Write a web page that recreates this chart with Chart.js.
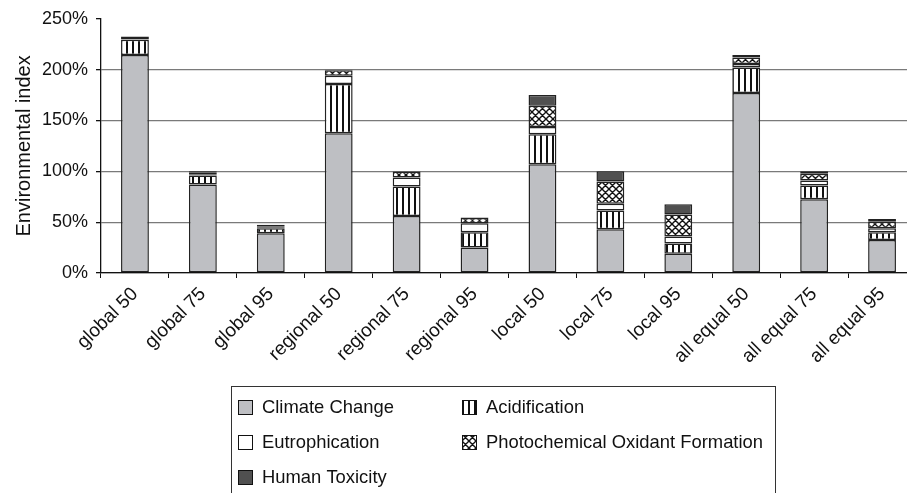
<!DOCTYPE html>
<html>
<head>
<meta charset="utf-8">
<script src="https://cdn.jsdelivr.net/npm/chart.js@4.4.0/dist/chart.umd.min.js"></script>
<style>
html,body{margin:0;padding:0;background:#fff;overflow:hidden;}
#wrap{width:907px;height:493px;overflow:hidden;position:relative;}
canvas{display:block;}
</style>
</head>
<body>
<div id="wrap"><canvas id="c" width="917" height="493"></canvas></div>
<script>
// ---- data (percent) ----
const categories = ['global 50','global 75','global 95','regional 50','regional 75','regional 95','local 50','local 75','local 95','all equal 50','all equal 75','all equal 95'];
const climateChange = [214.5, 87, 39, 137.5, 56, 25, 107, 43, 19, 177, 72.5, 32.5];
const acidification = [15, 9, 5, 48.5, 29, 15, 29.5, 18.5, 10, 25, 13.5, 7.5];
const eutrophication = [0.5, 1, 1, 8, 9, 9, 7, 6.5, 7, 3.5, 5, 4];
const photochemical = [1, 1.5, 1, 5.5, 5.5, 5, 21, 22, 21.5, 6.5, 6.5, 6.5];
const humanToxicity = [1.5, 1.5, 1.5, 0.5, 0.5, 0.5, 10.5, 10, 10, 2.5, 2.5, 2.5];
const seriesNames = ['Climate Change','Acidification','Eutrophication','Photochemical Oxidant Formation','Human Toxicity'];
const yTicks = [0, 50, 100, 150, 200, 250];

// ---- patterns ----
function stripePattern(){
  const c = document.createElement('canvas'); c.width = 6; c.height = 6;
  const g = c.getContext('2d');
  g.fillStyle = '#fff'; g.fillRect(0,0,6,6);
  g.fillStyle = '#111'; g.fillRect(0,0,2,6);
  return document.getElementById('c').getContext('2d').createPattern(c,'repeat');
}
function crossPattern(){
  const s = 7;
  const c = document.createElement('canvas'); c.width = s; c.height = s;
  const g = c.getContext('2d');
  g.fillStyle = '#fff'; g.fillRect(0,0,s,s);
  g.strokeStyle = '#111'; g.lineWidth = 1.4;
  g.beginPath();
  for (const o of [-s,0,s]) {
    g.moveTo(o,0); g.lineTo(o+s,s);
    g.moveTo(o+s,0); g.lineTo(o,s);
  }
  g.stroke();
  return document.getElementById('c').getContext('2d').createPattern(c,'repeat');
}
const fills = ['#bebfc3', stripePattern(), '#ffffff', crossPattern(), '#505050'];
const seriesData = [climateChange, acidification, eutrophication, photochemical, humanToxicity];

const FONT = 'Liberation Sans, Arial, sans-serif';

const legendPlugin = {
  id: 'boxLegend',
  afterDraw(chart){
    const ctx = chart.ctx;
    ctx.save();
    ctx.strokeStyle = '#333'; ctx.lineWidth = 1;
    ctx.strokeRect(231.5, 386.5, 544, 200);
    const pos = [[238,407],[462,407],[238,442],[462,442],[238,477]];
    ctx.font = '18.4px ' + FONT;
    ctx.textBaseline = 'middle';
    ctx.textAlign = 'left';
    chart.data.datasets.forEach((ds,i)=>{
      const [x,y] = pos[i];
      ctx.fillStyle = ds.backgroundColor;
      ctx.fillRect(x, y-7, 14, 14);
      ctx.strokeStyle = '#111'; ctx.lineWidth = 1;
      ctx.strokeRect(x+0.5, y-6.5, 14, 14);
      ctx.fillStyle = '#111';
      ctx.fillText(ds.label, x+24, y+1);
    });
    ctx.restore();
  }
};

new Chart(document.getElementById('c'), {
  type: 'bar',
  data: {
    labels: categories,
    datasets: seriesNames.map((n,i)=>({
      label: n,
      data: seriesData[i],
      backgroundColor: fills[i],
      borderColor: '#222',
      borderWidth: 1.5,
      borderSkipped: false,
      categoryPercentage: 1,
      barPercentage: 0.41
    }))
  },
  options: {
    responsive: false,
    animation: false,
    devicePixelRatio: 1,
    layout: { padding: { top: 14, right: 1, left: 0, bottom: 0 } },
    plugins: { legend: { display: false }, tooltip: { enabled: false } },
    scales: {
      x: {
        stacked: true,
        afterFit(s){ s.height = 220; },
        grid: { display: true, drawOnChartArea: false, drawTicks: true, tickLength: 5, tickColor: '#111', offset: true },
        border: { color: '#111', width: 1.3 },
        ticks: { font: { family: FONT, size: 19 }, color: '#111', maxRotation: 45, minRotation: 45, padding: 5 }
      },
      y: {
        stacked: true,
        min: 0, max: 250,
        afterFit(s){ s.width = 101; },
        afterBuildTicks(s){ s.ticks = yTicks.map(v=>({value:v})); },
        grid: {
          color: (c)=> c.tick && c.tick.value === 250 ? 'rgba(0,0,0,0)' : '#7a7a7a',
          lineWidth: 1.3, tickLength: 5, tickColor: '#111'
        },
        border: { color: '#111', width: 1.3 },
        ticks: { font: { family: FONT, size: 18 }, color: '#111', padding: 8, callback: v => v + '%' },
        title: { display: true, text: 'Environmental index', font: { family: FONT, size: 20 }, color: '#111', padding: { top: 12, bottom: 4 } }
      }
    }
  },
  plugins: [legendPlugin]
});
</script>
</body>
</html>
